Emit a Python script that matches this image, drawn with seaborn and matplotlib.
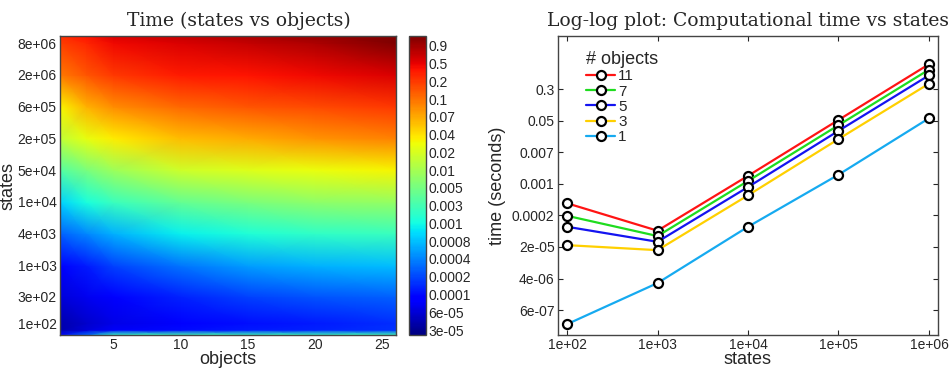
import numpy as np
import pandas as pd
import seaborn as sns
import matplotlib
matplotlib.use("Agg")
import matplotlib.pyplot as plt
from matplotlib.colors import LogNorm
from matplotlib.ticker import FixedLocator, FixedFormatter, NullLocator

# ---- left panel: time (s), rows = states, cols = objects
heat_objects = [1, 3, 5, 10, 15, 20, 26]
heat_states = [62, 76, 100, 290, 1.0e3, 3.7e3, 1.3e4, 4.8e4, 1.7e5, 6.1e5, 2.2e6, 8.0e6, 1.07e7]
heat_time = [
    [9.0e-5, 3.0e-4, 2.2e-3, 2.6e-3, 2.4e-3, 2.4e-3, 2.6e-3],
    [3.9e-5, 6.0e-5, 8.0e-5, 1.1e-4, 1.3e-4, 1.4e-4, 1.7e-4],
    [3.9e-5, 5.4e-5, 6.8e-5, 9.3e-5, 1.16e-4, 1.29e-4, 1.61e-4],
    [6.1e-5, 7.5e-5, 9.3e-5, 1.44e-4, 2.0e-4, 2.48e-4, 2.76e-4],
    [9.3e-5, 1.29e-4, 2.0e-4, 3.43e-4, 5.3e-4, 6.6e-4, 7.3e-4],
    [2.76e-4, 4.26e-4, 6.6e-4, 1.26e-3, 1.74e-3, 2.16e-3, 2.41e-3],
    [9.1e-4, 1.56e-3, 2.41e-3, 4.15e-3, 5.7e-3, 7.1e-3, 7.9e-3],
    [3.34e-3, 5.7e-3, 8.9e-3, 0.017, 0.0211, 0.0248, 0.0292],
    [0.0137, 0.0235, 0.0325, 0.0559, 0.0695, 0.0863, 0.107],
    [0.0292, 0.0623, 0.0961, 0.148, 0.184, 0.205, 0.255],
    [0.119, 0.184, 0.255, 0.353, 0.394, 0.439, 0.545],
    [0.229, 0.317, 0.439, 0.545, 0.677, 0.84, 1.3],
    [0.284, 0.394, 0.545, 0.677, 0.84, 1.04, 1.3],
]
heat_ylabels = ["8e+06", "2e+06", "6e+05", "2e+05", "5e+04", "1e+04", "4e+03", "1e+03", "3e+02", "1e+02"]
cbar_labels = ["3e-05", "6e-05", "0.0001", "0.0002", "0.0004", "0.0008", "0.001", "0.003",
               "0.005", "0.01", "0.02", "0.04", "0.07", "0.1", "0.2", "0.5", "0.9"]

# ---- right panel: log-log time vs states per number of objects
line_states = [1e2, 1e3, 1e4, 1e5, 1e6]
time_obj11 = [3.3e-4, 6.4e-5, 1.7e-3, 0.048, 1.34]
time_obj7 = [1.56e-4, 4.65e-5, 1.25e-3, 0.035, 0.97]
time_obj5 = [8.1e-5, 3.3e-5, 8.7e-4, 0.025, 0.69]
time_obj3 = [2.7e-5, 2.0e-5, 5.3e-4, 0.0153, 0.42]
time_obj1 = [2.4e-7, 2.8e-6, 8.1e-5, 1.82e-3, 0.053]
line_xlabels = ["1e+02", "1e+03", "1e+04", "1e+05", "1e+06"]
line_ylabels = ["6e-07", "4e-06", "2e-05", "0.0002", "0.001", "0.007", "0.05", "0.3"]

series = {"11": time_obj11, "7": time_obj7, "5": time_obj5, "3": time_obj3, "1": time_obj1}
df = pd.concat([pd.DataFrame({"states": line_states, "time": v, "objects": k})
                for k, v in series.items()], ignore_index=True)

sns.set_style("ticks")
plt.rcParams["font.family"] = ["Liberation Sans", "DejaVu Sans"]
plt.rcParams["axes.edgecolor"] = "#444444"
plt.rcParams["axes.linewidth"] = 1.0

fig = plt.figure(figsize=(9.49, 3.80), dpi=100)
ax1 = fig.add_axes([60 / 949, 45 / 380, 336 / 949, 299 / 380])
cax = fig.add_axes([409 / 949, 45 / 380, 17 / 949, 299 / 380])
ax2 = fig.add_axes([558 / 949, 45 / 380, 380 / 949, 299 / 380])

# heat map
norm = LogNorm(vmin=np.exp(-10.58), vmax=np.exp(0.26))
mesh = ax1.pcolormesh(heat_objects, heat_states, np.array(heat_time), cmap="jet",
                      norm=norm, shading="gouraud", rasterized=True)
ax1.set_yscale("log")
ax1.set_xlim(1, 26)
ax1.set_ylim(62, 1.07e7)
ytick_pos = list(np.exp(15.9 - 1.28 * np.arange(9))) + [100]
ax1.yaxis.set_major_locator(FixedLocator(ytick_pos))
ax1.yaxis.set_major_formatter(FixedFormatter(heat_ylabels))
ax1.yaxis.set_minor_locator(NullLocator())
ax1.set_xticks([5, 10, 15, 20, 25])
ax1.set_xlabel("objects", fontsize=13, labelpad=-1)
ax1.set_ylabel("states", fontsize=13, labelpad=1)
ax1.set_title("Time (states vs objects)", family="DejaVu Serif", fontsize=13.5, pad=7, x=0.533)
ax1.tick_params(direction="in", length=3.5, labelsize=10, top=True, right=True, pad=2.5)

cb = fig.colorbar(mesh, cax=cax)
cb.outline.set_edgecolor("#444444")
cb.ax.yaxis.set_major_locator(FixedLocator(np.exp(-10.4 + 0.644 * np.arange(17))))
cb.ax.yaxis.set_major_formatter(FixedFormatter(cbar_labels))
cb.ax.yaxis.set_minor_locator(NullLocator())
cb.ax.tick_params(direction="in", length=3, labelsize=10, left=True, right=True, pad=1.5)

# log-log lines
palette = {"11": "#ff1414", "7": "#1fdc1f", "5": "#1414f0", "3": "#ffd000", "1": "#16aaf0"}
sns.lineplot(data=df, x="states", y="time", hue="objects", hue_order=list(series.keys()),
             palette=palette, marker="o", markersize=6.5, markerfacecolor="white",
             markeredgecolor="black", markeredgewidth=1.6, linewidth=1.6, ax=ax2)
ax2.set_xscale("log")
ax2.set_yscale("log")
ax2.set_xlim(10 ** 1.9, 10 ** 6.1)
ax2.set_ylim(np.exp(-15.89), np.exp(1.98))
ax2.xaxis.set_major_locator(FixedLocator(line_states))
ax2.xaxis.set_major_formatter(FixedFormatter(line_xlabels))
ax2.xaxis.set_minor_locator(NullLocator())
ax2.yaxis.set_major_locator(FixedLocator(np.exp(-14.4 + 1.885 * np.arange(8))))
ax2.yaxis.set_major_formatter(FixedFormatter(line_ylabels))
ax2.yaxis.set_minor_locator(NullLocator())
ax2.tick_params(direction="in", length=3.5, labelsize=10, top=True, right=True, pad=2.5)
ax2.set_xlabel("states", fontsize=13, labelpad=-1)
ax2.set_ylabel("time (seconds)", fontsize=13, labelpad=4)
ax2.set_title("Log-log plot: Computational time vs states", family="DejaVu Serif",
              fontsize=13.5, pad=7)
for sp in ax2.spines.values():
    sp.set_visible(True)
leg = ax2.legend(title="# objects", loc="upper left", bbox_to_anchor=(0.05, 0.98),
                 frameon=False, fontsize=11, title_fontsize=13, handlelength=1.9,
                 labelspacing=0.08, handletextpad=0.2, borderaxespad=0.2, alignment="left")

fig.savefig("out.png", dpi=100)
